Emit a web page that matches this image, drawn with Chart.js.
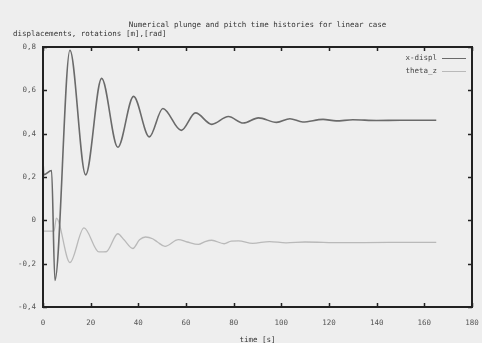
<!DOCTYPE html>
<html lang="en">
<head>
    <meta charset="UTF-8">
    <title>Plunge and pitch</title>
    <style>
        body {
            margin: 0;
            padding: 0;
            background-color: #eeeeee;
        }
        canvas {
            display: block;
        }
    </style>
    <script src="https://cdn.jsdelivr.net/npm/chart.js"></script>
</head>
<body>
    <canvas id="chartCanvas" width="482" height="343"></canvas>
    <script>
        // plunge (x-displ), mostly at the peaks and troughs
        const timeDispl = [0, 0.3, 3.6, 5.0, 11.3, 17.9, 24.6, 31.4, 38.0, 44.6, 50.3, 58.0, 64.0, 70.8, 77.8, 84.0, 90.4, 98.0, 103.6, 109.0, 117.5, 123.0, 130.0, 140.0, 150.0, 165.0];
        const xDispl = [0.28, 0.21, 0.23, -0.277, 0.785, 0.21, 0.655, 0.337, 0.572, 0.385, 0.516, 0.415, 0.496, 0.443, 0.479, 0.449, 0.473, 0.452, 0.469, 0.454, 0.466, 0.459, 0.464, 0.461, 0.462, 0.462];

        // pitch (theta_z)
        const timeTheta = [0, 4.6, 5.6, 11.3, 17.2, 23.5, 26.5, 31.4, 34.0, 37.7, 40.5, 43.0, 46.0, 48.0, 51.2, 56.8, 60.5, 65.2, 68.0, 70.8, 76.0, 79.0, 82.0, 88.0, 95.0, 102.0, 110.0, 125.0, 145.0, 165.0];
        const thetaZ = [-0.05, -0.05, 0.01, -0.195, -0.035, -0.146, -0.145, -0.062, -0.09, -0.13, -0.09, -0.077, -0.085, -0.1, -0.12, -0.089, -0.1, -0.111, -0.098, -0.092, -0.108, -0.096, -0.095, -0.106, -0.098, -0.104, -0.1, -0.103, -0.102, -0.102];

        const seriesNames = ['x-displ', 'theta_z'];
        const seriesColors = ['#6a6a6a', '#b9b9b9'];

        const xMin = 0, xMax = 180, xStep = 20;
        const yMin = -0.4, yMax = 0.8, yStep = 0.2;

        const titleText = 'Numerical plunge and pitch time histories for linear case';
        const yAxisText = 'displacements, rotations [m],[rad]';
        const xAxisText = 'time [s]';

        const mono = '"DejaVu Sans Mono", "Liberation Mono", monospace';

        function pairs(xs, ys) {
            return xs.map((x, i) => ({ x: x, y: ys[i] }));
        }

        // gnuplot look: frame, inward ticks, texts, legend
        const gnuplotLook = {
            id: 'gnuplotLook',
            beforeDraw(chart) {
                const ctx = chart.ctx;
                ctx.save();
                ctx.fillStyle = '#eeeeee';
                ctx.fillRect(0, 0, chart.width, chart.height);
                ctx.restore();
            },
            afterDraw(chart) {
                const ctx = chart.ctx;
                const a = chart.chartArea;
                const xs = chart.scales.x;
                const ys = chart.scales.y;
                ctx.save();

                // inward ticks on all four sides
                ctx.strokeStyle = '#222';
                ctx.lineWidth = 1.5;
                ctx.beginPath();
                for (let v = xMin; v <= xMax; v += xStep) {
                    const px = Math.round(xs.getPixelForValue(v)) + 0.5;
                    ctx.moveTo(px, a.bottom); ctx.lineTo(px, a.bottom - 4);
                    ctx.moveTo(px, a.top); ctx.lineTo(px, a.top + 4);
                }
                for (let v = yMin; v <= yMax + 1e-9; v += yStep) {
                    const py = Math.round(ys.getPixelForValue(v)) + 0.5;
                    ctx.moveTo(a.left, py); ctx.lineTo(a.left + 4, py);
                    ctx.moveTo(a.right, py); ctx.lineTo(a.right - 4, py);
                }
                ctx.stroke();

                // frame
                ctx.lineWidth = 2;
                ctx.strokeRect(a.left, a.top, a.right - a.left, a.bottom - a.top);

                // texts
                ctx.fillStyle = '#333';
                ctx.font = '7.5px ' + mono;
                ctx.textBaseline = 'middle';
                ctx.textAlign = 'center';
                ctx.fillText(titleText, (a.left + a.right) / 2, 25);
                ctx.fillText(xAxisText, (a.left + a.right) / 2, 340);
                ctx.textAlign = 'left';
                ctx.fillText(yAxisText, 13, 34);

                // legend: text then line sample
                seriesNames.forEach((name, i) => {
                    const y = 58 + i * 13;
                    ctx.textAlign = 'right';
                    ctx.fillStyle = '#444';
                    ctx.fillText(name, 437, y);
                    ctx.strokeStyle = seriesColors[i];
                    ctx.lineWidth = 1;
                    ctx.beginPath();
                    ctx.moveTo(442, y + 0.5);
                    ctx.lineTo(466, y + 0.5);
                    ctx.stroke();
                });
                ctx.restore();
            }
        };

        new Chart(document.getElementById('chartCanvas'), {
            type: 'line',
            data: {
                datasets: [
                    {
                        label: seriesNames[0],
                        data: pairs(timeDispl, xDispl),
                        borderColor: seriesColors[0],
                        borderWidth: 1.6,
                        pointRadius: 0,
                        cubicInterpolationMode: 'monotone'
                    },
                    {
                        label: seriesNames[1],
                        data: pairs(timeTheta, thetaZ),
                        borderColor: seriesColors[1],
                        borderWidth: 1.3,
                        pointRadius: 0,
                        cubicInterpolationMode: 'monotone'
                    }
                ]
            },
            options: {
                responsive: false,
                animation: false,
                layout: {
                    padding: { top: 47, right: 10, left: 0, bottom: 0 }
                },
                plugins: {
                    legend: { display: false },
                    tooltip: { enabled: false }
                },
                scales: {
                    x: {
                        type: 'linear',
                        min: xMin,
                        max: xMax,
                        afterFit(scale) {
                            scale.height = 36;
                            scale.paddingRight = 0;
                            scale.paddingLeft = 0;
                        },
                        grid: { display: false, drawTicks: false },
                        border: { display: false },
                        ticks: {
                            stepSize: xStep,
                            maxRotation: 0,
                            padding: 12,
                            color: '#555',
                            font: { family: mono, size: 7.5 }
                        }
                    },
                    y: {
                        min: yMin,
                        max: yMax,
                        afterFit(scale) { scale.width = 43; },
                        grid: { display: false, drawTicks: false },
                        border: { display: false },
                        ticks: {
                            stepSize: yStep,
                            padding: 7,
                            color: '#555',
                            font: { family: mono, size: 7.5 },
                            callback: (v) => {
                                const r = Math.round(v * 10) / 10;
                                return r === 0 ? '0' : r.toFixed(1).replace('.', ',');
                            }
                        }
                    }
                }
            },
            plugins: [gnuplotLook]
        });
    </script>
</body>
</html>
